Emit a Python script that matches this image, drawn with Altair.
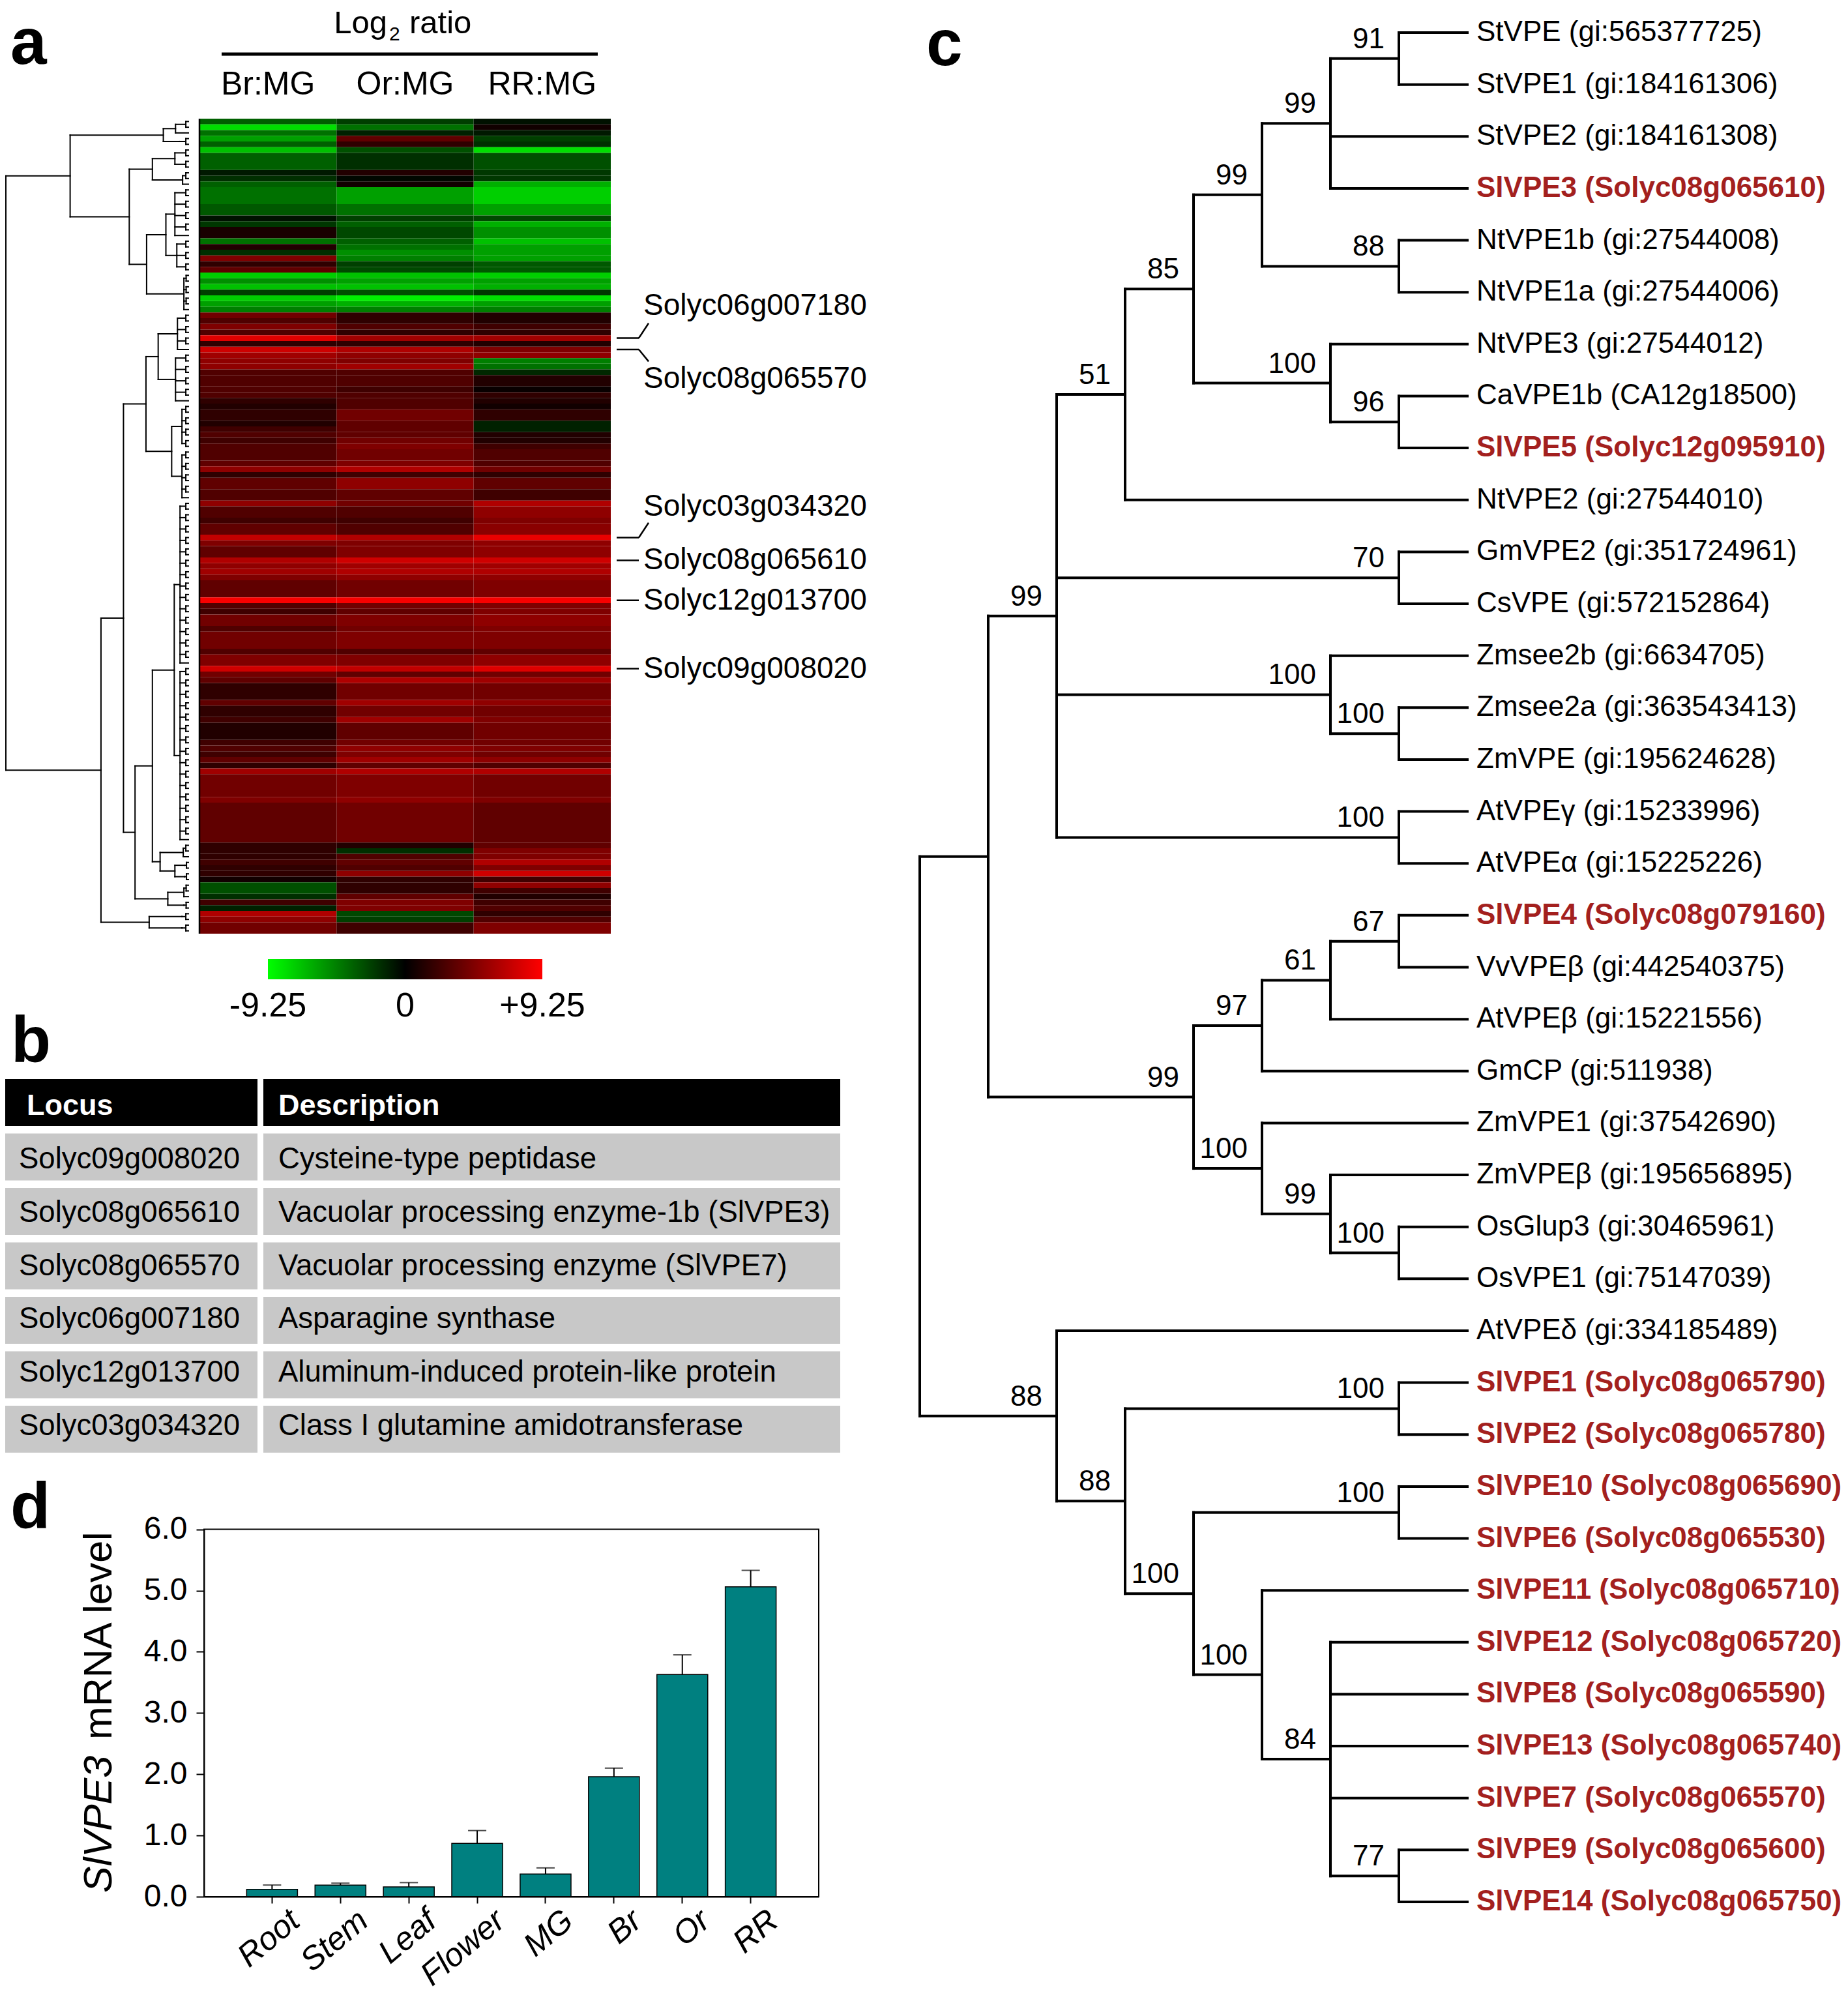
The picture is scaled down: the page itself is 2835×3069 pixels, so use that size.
import altair as alt
import pandas as pd

FONT = "Liberation Sans"
W, H = 2819, 3053
RED = "#A3201E"

# ---------------- Panel a : heat map (log2 ratios) ----------------
hm_columns = ["Br:MG", "Or:MG", "RR:MG"]
band_rows = [1, 1, 1, 1, 1, 1, 3, 1, 1, 1,
             3, 2, 1, 1, 2, 1, 1, 1, 1, 1,
             1, 1, 1, 1, 1, 1, 1, 1, 1, 1,
             1, 1, 1, 1, 1, 1, 1, 1, 1, 2,
             1, 1, 1, 1, 2, 1, 1, 1, 1, 1,
             2, 1, 1, 1, 2, 2, 1, 2, 1, 2,
             1, 1, 2, 1, 1, 1, 1, 3, 1, 1,
             1, 2, 1, 3, 1, 2, 1, 1, 1, 3,
             1, 2, 1, 3, 1, 1, 1, 1, 1, 1,
             4, 1, 7, 1, 1, 1, 1, 1, 1, 1,
             1, 1, 1, 1, 1, 1, 1, 2]
band_br = [-3.5, -8.1, -4.1, -5.8, -3.5, -7.0, -3.5, -0.9, -1.7, -3.5,
           -4.1, -3.2, -0.6, -2.0, 0.9, -4.1, 1.2, -1.7, 4.6, 1.7,
           3.5, -7.5, -5.2, -7.0, -2.3, -7.5, -5.8, -4.6, 4.1, 2.9,
           4.6, 2.9, 8.1, 1.7, 7.5, 5.8, 5.2, 5.2, 2.9, 2.9,
           2.9, 2.9, 1.7, 1.2, 1.7, 1.2, 2.3, 2.9, 2.3, 2.9,
           2.9, 3.5, 5.2, 1.7, 3.5, 2.9, 5.2, 2.9, 2.3, 3.5,
           7.0, 4.6, 3.5, 6.4, 5.2, 5.8, 4.6, 3.5, 9.0, 2.9,
           2.3, 4.1, 2.9, 4.1, 2.9, 4.6, 7.5, 4.1, 3.5, 1.7,
           3.5, 1.7, 2.3, 1.2, 2.3, 2.9, 2.3, 3.5, 1.7, 5.8,
           4.1, 4.6, 3.5, 1.7, 1.7, 1.7, 2.3, 1.7, 1.7, 0.6,
           -2.9, -2.9, -1.7, 2.3, -1.2, 6.4, 5.2, 4.1]
band_or = [-2.3, -4.1, -1.2, 3.5, 1.7, -2.9, -1.7, 1.2, -0.3, 0.6,
           -5.8, -4.1, -2.3, -3.5, -2.6, -3.5, -4.1, -5.2, -4.6, -2.3,
           -2.6, -7.0, -5.8, -7.0, -2.9, -8.7, -6.4, -4.6, 1.7, 1.7,
           2.9, 1.7, 5.8, 1.7, 6.4, 5.2, 4.6, 5.8, 2.9, 2.9,
           2.3, 2.9, 2.9, 2.9, 4.1, 3.5, 3.5, 3.5, 4.1, 4.6,
           4.1, 4.6, 6.4, 2.3, 5.2, 3.5, 4.1, 2.9, 2.3, 2.9,
           6.4, 4.6, 4.6, 7.5, 5.8, 6.4, 5.2, 4.1, 9.0, 4.1,
           3.5, 4.6, 4.1, 4.6, 2.9, 4.6, 7.0, 3.5, 6.4, 4.1,
           5.8, 4.1, 5.8, 3.5, 4.1, 5.2, 4.6, 5.8, 3.5, 6.4,
           4.6, 5.2, 4.1, 1.2, -1.7, 2.9, 3.5, 2.9, 5.2, 1.7,
           1.7, 1.7, 3.5, 4.6, 4.6, -2.6, -2.3, 2.3]
band_rr = [-0.6, 0.6, -0.9, -2.3, -1.7, -8.1, -2.9, -2.0, -2.0, -6.4,
           -7.5, -5.8, -2.6, -6.4, -5.2, -7.0, -5.8, -5.8, -5.8, -3.2,
           -3.2, -7.5, -5.8, -6.4, -2.0, -8.1, -5.8, -4.6, 1.2, 1.2,
           2.3, 1.7, 5.8, 1.2, 4.6, 5.2, -4.6, -4.1, -1.45, 1.2,
           0.3, 1.7, 1.2, 0.6, 1.7, -1.2, -1.2, 1.2, 1.2, 2.3,
           2.9, 2.9, 4.1, 1.7, 3.5, 2.3, 6.4, 5.2, 4.6, 5.0,
           8.4, 5.2, 5.2, 7.5, 5.8, 6.4, 5.2, 4.6, 9.0, 4.6,
           4.6, 5.2, 4.6, 4.6, 3.5, 5.2, 8.1, 4.1, 5.8, 4.1,
           5.2, 4.1, 4.6, 4.1, 4.1, 4.6, 4.1, 5.2, 2.9, 6.4,
           4.1, 4.6, 3.5, 3.5, 4.6, 4.6, 6.4, 4.6, 7.5, 2.3,
           5.2, 2.3, 1.2, 2.3, 2.9, 1.7, 2.9, 4.6]
colorbar_ticks = [-9.25, 0, 9.25]
colorbar_labels = ["-9.25", "0", "+9.25"]

gene_names = ["Solyc06g007180", "Solyc08g065570", "Solyc03g034320",
              "Solyc08g065610", "Solyc12g013700", "Solyc09g008020"]
gene_rows = [38, 40, 73, 77, 84, 96]

# hierarchical clustering of the rows: ("n", height, children) / ("c", first_row, last_row, height)
row_dendrogram = ("n", 284, [
    ("n", 184, [
        ("n", 39, [("c", 0, 2, 20), ("c", 3, 4, 14)]),
        ("n", 92, [
            ("n", 56, [("c", 5, 8, 21), ("c", 9, 11, 9)]),
            ("n", 65, [
                ("n", 35, [("c", 12, 20, 21), ("c", 21, 26, 18)]),
                ("c", 27, 33, 7)]),
        ]),
    ]),
    ("n", 136, [
        ("n", 101, [
            ("n", 66, [
                ("n", 47, [("c", 34, 40, 17), ("c", 41, 49, 20)]),
                ("n", 26, [("c", 50, 57, 10), ("c", 58, 66, 10)]),
            ]),
            ("n", 83, [
                ("n", 56, [
                    ("n", 22, [("c", 67, 95, 13), ("c", 96, 126, 13)]),
                    ("n", 44, [("c", 127, 129, 8),
                               ("n", 21, [("c", 130, 131, 6), ("c", 132, 133, 6)])]),
                ]),
                ("n", 32, [("c", 134, 136, 7), ("c", 137, 138, 7)]),
            ]),
        ]),
        ("n", 61, [("c", 139, 140, 10), ("c", 141, 142, 10)]),
    ]),
])

# ---------------- Panel b : table ----------------
table_locus = ["Solyc09g008020", "Solyc08g065610", "Solyc08g065570",
               "Solyc06g007180", "Solyc12g013700", "Solyc03g034320"]
table_desc = ["Cysteine-type peptidase",
              "Vacuolar processing enzyme-1b (SlVPE3)",
              "Vacuolar processing enzyme (SlVPE7)",
              "Asparagine synthase",
              "Aluminum-induced protein-like protein",
              "Class I glutamine amidotransferase"]

# ---------------- Panel c : phylogenetic tree ----------------
tree_leaves = [
    "StVPE (gi:565377725)", "StVPE1 (gi:184161306)", "StVPE2 (gi:184161308)",
    "SlVPE3 (Solyc08g065610)", "NtVPE1b (gi:27544008)", "NtVPE1a (gi:27544006)",
    "NtVPE3 (gi:27544012)", "CaVPE1b (CA12g18500)", "SlVPE5 (Solyc12g095910)",
    "NtVPE2 (gi:27544010)", "GmVPE2 (gi:351724961)", "CsVPE (gi:572152864)",
    "Zmsee2b (gi:6634705)", "Zmsee2a (gi:363543413)", "ZmVPE (gi:195624628)",
    "AtVPEγ (gi:15233996)", "AtVPEα (gi:15225226)", "SlVPE4 (Solyc08g079160)",
    "VvVPEβ (gi:442540375)", "AtVPEβ (gi:15221556)", "GmCP (gi:511938)",
    "ZmVPE1 (gi:37542690)", "ZmVPEβ (gi:195656895)", "OsGlup3 (gi:30465961)",
    "OsVPE1 (gi:75147039)", "AtVPEδ (gi:334185489)", "SlVPE1 (Solyc08g065790)",
    "SlVPE2 (Solyc08g065780)", "SlVPE10 (Solyc08g065690)", "SlVPE6 (Solyc08g065530)",
    "SlVPE11 (Solyc08g065710)", "SlVPE12 (Solyc08g065720)", "SlVPE8 (Solyc08g065590)",
    "SlVPE13 (Solyc08g065740)", "SlVPE7 (Solyc08g065570)", "SlVPE9 (Solyc08g065600)",
    "SlVPE14 (Solyc08g065750)"]
# (node level, bootstrap, children); ints are leaf indices
tree_topology = (0, None, [
    (1, None, [
        (2, 99, [
            (3, 51, [
                (4, 85, [
                    (5, 99, [
                        (6, 99, [(7, 91, [0, 1]), 2, 3]),
                        (7, 88, [4, 5]),
                    ]),
                    (6, 100, [6, (7, 96, [7, 8])]),
                ]),
                9,
            ]),
            (7, 70, [10, 11]),
            (6, 100, [12, (7, 100, [13, 14])]),
            (7, 100, [15, 16]),
        ]),
        (4, 99, [
            (5, 97, [(6, 61, [(7, 67, [17, 18]), 19]), 20]),
            (5, 100, [21, (6, 99, [22, (7, 100, [23, 24])])]),
        ]),
    ]),
    (2, 88, [
        25,
        (3, 88, [
            (7, 100, [26, 27]),
            (4, 100, [
                (7, 100, [28, 29]),
                (5, 100, [30, (6, 84, [31, 32, 33, 34, (7, 77, [35, 36])])]),
            ]),
        ]),
    ]),
])
LEAF_LEVEL = 8

# ---------------- Panel d : qRT-PCR ----------------
tissues = ["Root", "Stem", "Leaf", "Flower", "MG", "Br", "Or", "RR"]
mrna_mean = [0.12, 0.19, 0.16, 0.87, 0.37, 1.96, 3.63, 5.06]
mrna_err = [0.07, 0.03, 0.07, 0.21, 0.10, 0.14, 0.32, 0.27]

# =================== build tables ===================
hm_records = []
start = 0
for n, a, b, c in zip(band_rows, band_br, band_or, band_rr):
    for col, v in zip(hm_columns, (a, b, c)):
        hm_records.append({"col": col, "y0": start, "y1": start + n, "v": v})
    start += n
N_ROWS = start
hm_df = pd.DataFrame(hm_records)

def dendro_layout(node, segs):
    kind = node[0]
    if kind == "leaf":
        return 0.0, node[1] + 0.5
    if kind == "c":
        _, s, e, h = node
        rows = list(range(s, e + 1))
        kids = []
        i = 0
        while i < len(rows):
            if i + 1 < len(rows):
                kids.append(("n", min(4, h * 0.5), [("leaf", rows[i]), ("leaf", rows[i + 1])]))
                i += 2
            else:
                kids.append(("leaf", rows[i]))
                i += 1
        node = ("n", h, kids)
    _, h, children = node
    ys = []
    for ch in children:
        ch_h, ch_y = dendro_layout(ch, segs)
        segs.append({"x1": ch_h, "x2": h, "y1": ch_y, "y2": ch_y})
        ys.append(ch_y)
    segs.append({"x1": h, "x2": h, "y1": ys[0], "y2": ys[-1]})
    return float(h), (ys[0] + ys[-1]) / 2

dseg = []
dendro_layout(row_dendrogram, dseg)
dendro_df = pd.DataFrame(dseg)

def tree_layout(node, segs, boots):
    if isinstance(node, int):
        return LEAF_LEVEL, float(node)
    level, boot, children = node
    ys = []
    for ch in children:
        cl, cy = tree_layout(ch, segs, boots)
        segs.append({"x1": level, "x2": cl, "y1": cy, "y2": cy})
        ys.append(cy)
    y = (ys[0] + ys[-1]) / 2
    segs.append({"x1": level, "x2": level, "y1": ys[0], "y2": ys[-1]})
    if boot is not None:
        boots.append({"x": level, "y": y, "t": str(boot)})
    return level, y

tseg, tboot = [], []
tree_layout(tree_topology, tseg, tboot)
tree_df = pd.DataFrame(tseg)
boot_df = pd.DataFrame(tboot)
leaf_df = pd.DataFrame({"name": tree_leaves, "i": list(range(len(tree_leaves)))})
leaf_df["sl"] = leaf_df["name"].str.startswith("SlVPE")

ONE = pd.DataFrame({"k": [0]})

def txt(text, x, y, size, **kw):
    kw.setdefault("baseline", "alphabetic")
    return alt.Chart(ONE).mark_text(text=text, fontSize=size, font=FONT, **kw).encode(
        x=alt.value(x), y=alt.value(y))

layers = []

# ---------- panel a ----------
row_scale = alt.Scale(domain=[0, N_ROWS], range=[174, 1424], nice=False, zero=False)
col_scale = alt.Scale(domain=hm_columns, range=[298, 929], paddingInner=0, paddingOuter=0)
cscale = alt.Scale(domain=[-9.25, 0, 9.25], range=["#00ff00", "#000000", "#ff0000"], interpolate="rgb")

layers.append(alt.Chart(hm_df).mark_rect().encode(
    x=alt.X("col:N", scale=col_scale, axis=None),
    y=alt.Y("y0:Q", scale=row_scale, axis=None),
    y2="y1:Q",
    color=alt.Color("v:Q", scale=cscale, legend=alt.Legend(
        type="gradient", orient="none", legendX=403, legendY=1463, direction="horizontal",
        gradientLength=421, gradientThickness=31, title=None,
        values=[0], labelExpr="''", labelFontSize=1, labelOpacity=0,
        gradientStrokeWidth=0, padding=0)),
))
# colour-bar tick labels, placed through a scale matching the gradient
cb_df = pd.DataFrame({"v": colorbar_ticks, "lab": colorbar_labels})
layers.append(alt.Chart(cb_df).mark_text(fontSize=52, font=FONT, baseline="middle").encode(
    x=alt.X("v:Q", scale=alt.Scale(domain=[-9.25, 9.25], range=[403, 824], nice=False, zero=False), axis=None),
    y=alt.value(1535), text="lab:N"))

# left border of the heat map
layers.append(alt.Chart(ONE).mark_rule(color="black", strokeWidth=2.5).encode(
    x=alt.value(298), y=alt.value(174), y2=alt.value(1424)))

layers.append(alt.Chart(pd.DataFrame({"col": hm_columns})).mark_text(
    fontSize=50, font=FONT, baseline="middle").encode(
    x=alt.X("col:N", scale=col_scale, axis=None), y=alt.value(122), text="col:N"))

layers.append(txt("Log", 586, 4, 49, align="right", baseline="top"))
layers.append(txt("2", 589, 54, 30, align="left"))
layers.append(txt("ratio", 620, 4, 49, align="left", baseline="top"))
layers.append(alt.Chart(ONE).mark_rule(color="black", strokeWidth=5).encode(
    x=alt.value(332), x2=alt.value(909), y=alt.value(75)))

dscale_x = alt.Scale(domain=[0, 284], range=[281, 1], nice=False, zero=False)
layers.append(alt.Chart(dendro_df).mark_rule(color="black", strokeWidth=2, strokeCap="square").encode(
    x=alt.X("x1:Q", scale=dscale_x, axis=None), x2="x2:Q",
    y=alt.Y("y1:Q", scale=row_scale, axis=None), y2="y2:Q"))

# gene labels with leader lines
label_row = [32.8, 45.7, 68.1, 77.5, 84.5, 96.5]
bend_row = [35.9, 42.6, 70.9, None, None, None]
gdf = pd.DataFrame({"g": gene_names, "yr": [r + 0.5 for r in gene_rows], "ly": label_row})
layers.append(alt.Chart(gdf).mark_text(fontSize=46, font=FONT, align="left", baseline="middle").encode(
    x=alt.value(979), y=alt.Y("ly:Q", scale=row_scale, axis=None), text="g:N"))
layers.append(alt.Chart(gdf).mark_rule(color="black", strokeWidth=2.5).encode(
    x=alt.value(938), x2=alt.value(972), y=alt.Y("yr:Q", scale=row_scale, axis=None)))
bdf = pd.DataFrame({"yr": [r + 0.5 for r in gene_rows[:3]], "yb": bend_row[:3]})
layers.append(alt.Chart(bdf).mark_rule(color="black", strokeWidth=2.5).encode(
    x=alt.value(972), x2=alt.value(987), y=alt.Y("yr:Q", scale=row_scale, axis=None), y2="yb:Q"))

# ---------- panel b ----------
row_keys = ["hdr"] + [f"r{i}" for i in range(len(table_locus))]
tb_scale = alt.Scale(domain=row_keys, range=[1647, 2220], paddingInner=0.138, paddingOuter=0)
cells = pd.DataFrame({"row": row_keys, "fill": ["#000000"] + ["#C8C8C8"] * len(table_locus)})
for xa, xb in [(0, 387), (396, 1281)]:
    layers.append(alt.Chart(cells).mark_rect().encode(
        x=alt.value(xa), x2=alt.value(xb),
        y=alt.Y("row:N", scale=tb_scale, axis=None),
        color=alt.Color("fill:N", scale=None)))
body = pd.DataFrame({"row": row_keys[1:], "locus": table_locus, "desc": table_desc})
head = pd.DataFrame({"row": ["hdr"], "locus": ["Locus"], "desc": ["Description"]})
for field, xpos in [("locus", 21), ("desc", 419)]:
    layers.append(alt.Chart(body).mark_text(fontSize=45.5, font=FONT, align="left", baseline="middle").encode(
        x=alt.value(xpos), y=alt.Y("row:N", scale=tb_scale, axis=None), text=f"{field}:N"))
for field, xpos in [("locus", 33), ("desc", 419)]:
    layers.append(alt.Chart(head).mark_text(fontSize=45, font=FONT, fontWeight="bold", color="white",
                                            align="left", baseline="middle").encode(
        x=alt.value(xpos), y=alt.Y("row:N", scale=tb_scale, axis=None), text=f"{field}:N"))

# ---------- panel c ----------
tx = alt.Scale(domain=[0, LEAF_LEVEL], range=[1403, 2243], nice=False, zero=False)
ty = alt.Scale(domain=[0, len(tree_leaves) - 1], range=[42, 2909], nice=False, zero=False)
layers.append(alt.Chart(tree_df).mark_rule(color="black", strokeWidth=4, strokeCap="square").encode(
    x=alt.X("x1:Q", scale=tx, axis=None), x2="x2:Q",
    y=alt.Y("y1:Q", scale=ty, axis=None), y2="y2:Q"))
layers.append(alt.Chart(leaf_df[~leaf_df["sl"]]).mark_text(
    fontSize=44, font=FONT, align="left", baseline="middle", color="black").encode(
    x=alt.value(2257), y=alt.Y("i:Q", scale=ty, axis=None), text="name:N"))
layers.append(alt.Chart(leaf_df[leaf_df["sl"]]).mark_text(
    fontSize=44, font=FONT, fontWeight="bold", align="left", baseline="middle", color=RED).encode(
    x=alt.value(2257), y=alt.Y("i:Q", scale=ty, axis=None), text="name:N"))
layers.append(alt.Chart(boot_df).mark_text(
    fontSize=44, font=FONT, align="right", baseline="alphabetic", dx=-22, dy=-16).encode(
    x=alt.X("x:Q", scale=tx, axis=None), y=alt.Y("y:Q", scale=ty, axis=None), text="t:N"))

# ---------- panel d ----------
bar_df = pd.DataFrame({"t": tissues, "m": mrna_mean, "e": mrna_err})
bar_df["top"] = bar_df["m"] + bar_df["e"]
bar_df["zero"] = 0.0
bx = alt.Scale(domain=tissues, range=[305, 1248], paddingInner=0.256, paddingOuter=0.623)
by = alt.Scale(domain=[0, 6], range=[2901, 2337.6], nice=False, zero=False)
layers.append(alt.Chart(bar_df).mark_bar(fill="#008080", stroke="black", strokeWidth=1.5).encode(
    x=alt.X("t:N", scale=bx, sort=tissues, axis=alt.Axis(
        orient="bottom", offset=-(H - 2901), title=None, domainColor="black", domainWidth=2,
        tickColor="black", tickWidth=2, tickSize=10, labelFont=FONT, labelFontSize=50,
        labelFontStyle="italic", labelColor="black", labelAngle=320, labelAlign="right",
        labelBaseline="middle", labelOffset=36, labelPadding=20)),
    y=alt.Y("m:Q", scale=by, axis=alt.Axis(
        orient="left", offset=-305, title=None, values=[0, 1, 2, 3, 4, 5, 6], format=".1f",
        domainColor="black", domainWidth=2, tickColor="black", tickWidth=2, tickSize=12,
        labelFont=FONT, labelFontSize=48, labelColor="black", labelPadding=14, grid=False)),
    y2="zero:Q"))
layers.append(alt.Chart(bar_df).mark_rule(color="black", strokeWidth=2).encode(
    x=alt.X("t:N", scale=bx, sort=tissues, axis=None),
    y=alt.Y("m:Q", scale=by, axis=None), y2="top:Q"))
layers.append(alt.Chart(bar_df).mark_tick(color="black", thickness=2, size=28, orient="horizontal").encode(
    x=alt.X("t:N", scale=bx, sort=tissues, axis=None),
    y=alt.Y("top:Q", scale=by, axis=None)))
layers.append(alt.Chart(ONE).mark_rect(filled=False, stroke="black", strokeWidth=2).encode(
    x=alt.value(305), x2=alt.value(1248), y=alt.value(2337.6), y2=alt.value(2901)))
layers.append(txt("SlVPE3", 145, 2895, 61, angle=270, align="left", baseline="middle", fontStyle="italic"))
layers.append(txt("mRNA level", 145, 2660, 61, angle=270, align="left", baseline="middle"))

# ---------- panel letters ----------
for letter, x, y in [("a", 8, 90), ("b", 9, 1621), ("c", 1413, 92), ("d", 8, 2336)]:
    layers.append(txt(letter, x, y, 100, fontWeight="bold", align="left"))

chart = alt.layer(*layers).resolve_scale(
    x="independent", y="independent", color="independent"
).properties(
    width=W, height=H, padding=0, autosize=alt.AutoSizeParams(type="none"), background="white"
).configure_view(stroke=None)

chart.save("out.html", embed_options={"renderer": "svg", "actions": False})
